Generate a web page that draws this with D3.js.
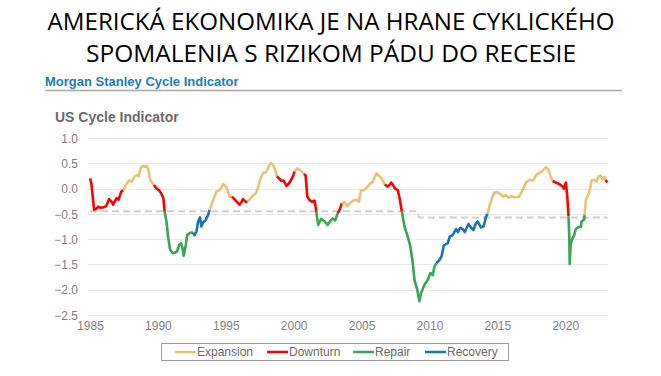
<!DOCTYPE html>
<html>
<head>
<meta charset="utf-8">
<script src="https://cdn.jsdelivr.net/npm/d3@7"></script>
<style>
  body { margin: 0; background: #fff; }
  svg { display: block; }
</style>
</head>
<body>
<div id="chart"></div>
<script>
// Chart data
const titleLines = ["AMERICKÁ EKONOMIKA JE NA HRANE CYKLICKÉHO", "SPOMALENIA S RIZIKOM PÁDU DO RECESIE"];
const phaseNames = ["Expansion", "Downturn", "Repair", "Recovery"];
const phaseColors = ["#e9c375", "#ff0000", "#3ba456", "#1a74b3"];
const yTicks = [1.0, 0.5, 0.0, -0.5, -1.0, -1.5, -2.0, -2.5];
const xTicks = [1985, 1990, 1995, 2000, 2005, 2010, 2015, 2020];

// [year, indicator value]
const cycle = [
  [1985.0, 0.20], [1985.1, 0.10], [1985.3, -0.42], [1985.45, -0.40], [1985.6, -0.36], [1985.8, -0.38],
  [1986.0, -0.37], [1986.2, -0.34], [1986.4, -0.21], [1986.5, -0.24], [1986.6, -0.26], [1986.7, -0.32],
  [1986.85, -0.24], [1986.96, -0.19], [1987.1, -0.22], [1987.3, -0.06], [1987.45, -0.03],
  [1987.7, 0.10], [1987.87, 0.16], [1988.07, 0.14], [1988.3, 0.24], [1988.5, 0.27], [1988.6, 0.25],
  [1988.75, 0.42], [1988.9, 0.45], [1989.05, 0.43], [1989.17, 0.45], [1989.3, 0.37], [1989.4, 0.20],
  [1989.5, 0.14], [1989.7, 0.07],
  [1989.9, 0.0], [1990.07, -0.03], [1990.27, -0.11], [1990.4, -0.19], [1990.5, -0.46],
  [1990.63, -0.65], [1990.75, -0.95], [1990.9, -1.21], [1991.1, -1.28], [1991.4, -1.25], [1991.57, -1.11],
  [1991.7, -1.08], [1991.8, -1.16], [1991.9, -1.33], [1992.06, -1.11], [1992.15, -0.92], [1992.35, -0.88],
  [1992.47, -0.87], [1992.6, -0.88],
  [1992.7, -0.92], [1992.84, -0.85], [1992.96, -0.65], [1993.1, -0.57], [1993.2, -0.75], [1993.33, -0.67],
  [1993.5, -0.63], [1993.7, -0.52], [1993.8, -0.42],
  [1994.07, -0.23], [1994.3, -0.06], [1994.56, -0.03], [1994.8, 0.09], [1995.05, 0.02], [1995.3, -0.17],
  [1995.46, -0.16], [1995.6, -0.20], [1995.8, -0.26], [1996.0, -0.32], [1996.15, -0.27], [1996.27, -0.21],
  [1996.45, -0.26], [1996.6, -0.26],
  [1996.8, -0.20], [1997.0, -0.14], [1997.25, -0.08], [1997.4, 0.05], [1997.5, 0.16], [1997.74, 0.31],
  [1997.94, 0.32], [1998.1, 0.40], [1998.3, 0.51], [1998.5, 0.46], [1998.7, 0.33], [1998.76, 0.24],
  [1998.85, 0.22], [1999.1, 0.15], [1999.26, 0.16], [1999.46, 0.05], [1999.7, 0.12], [1999.95, 0.24],
  [2000.07, 0.34],
  [2000.26, 0.40], [2000.45, 0.37], [2000.6, 0.33], [2000.75, 0.29],
  [2000.88, 0.26], [2001.0, -0.16], [2001.17, -0.23], [2001.34, -0.26], [2001.54, -0.24], [2001.67, -0.46],
  [2001.8, -0.72], [2002.03, -0.60], [2002.28, -0.65], [2002.5, -0.72], [2002.7, -0.64], [2002.87, -0.59],
  [2003.05, -0.63], [2003.24, -0.49],
  [2003.38, -0.42], [2003.55, -0.29],
  [2003.75, -0.27], [2003.94, -0.35], [2004.1, -0.30], [2004.36, -0.24], [2004.6, -0.22], [2004.8, -0.26],
  [2004.97, -0.03], [2005.2, -0.03], [2005.5, 0.06], [2005.7, 0.12], [2005.8, 0.12], [2005.95, 0.22],
  [2006.1, 0.30], [2006.3, 0.25], [2006.5, 0.19], [2006.7, 0.08],
  [2006.93, 0.04], [2007.1, 0.08], [2007.18, 0.12], [2007.3, 0.08], [2007.47, 0.0], [2007.67, -0.03],
  [2007.8, -0.19], [2007.97, -0.46],
  [2008.16, -0.75], [2008.4, -0.95], [2008.6, -1.15], [2008.77, -1.48], [2008.9, -1.81], [2009.1, -2.0],
  [2009.26, -2.23], [2009.38, -2.07], [2009.63, -1.90], [2009.87, -1.81], [2010.07, -1.67], [2010.24, -1.71],
  [2010.37, -1.54], [2010.5, -1.48],
  [2010.74, -1.41], [2010.9, -1.33], [2011.05, -1.13], [2011.2, -1.10], [2011.35, -1.08], [2011.5, -0.95],
  [2011.7, -0.92], [2011.96, -0.80], [2012.1, -0.86], [2012.25, -0.78], [2012.45, -0.80], [2012.6, -0.86],
  [2012.87, -0.70], [2013.06, -0.77], [2013.24, -0.82], [2013.4, -0.70], [2013.55, -0.65], [2013.8, -0.77],
  [2014.0, -0.74], [2014.16, -0.56], [2014.28, -0.50],
  [2014.45, -0.32], [2014.6, -0.19], [2014.78, -0.08], [2015.0, -0.07], [2015.27, -0.12], [2015.44, -0.16],
  [2015.63, -0.13], [2015.8, -0.18], [2016.07, -0.15], [2016.3, -0.17], [2016.6, -0.16], [2016.86, -0.03],
  [2017.1, 0.12], [2017.35, 0.17], [2017.65, 0.16], [2017.84, 0.26], [2018.1, 0.31], [2018.33, 0.35],
  [2018.57, 0.42], [2018.75, 0.38], [2018.94, 0.24], [2019.07, 0.15],
  [2019.3, 0.12], [2019.56, 0.09], [2019.8, 0.04], [2019.9, 0.0], [2020.05, 0.12], [2020.17, -0.23],
  [2020.24, -0.55],
  [2020.3, -0.95], [2020.33, -1.49], [2020.4, -1.11], [2020.5, -1.01], [2020.66, -0.92], [2020.78, -0.80],
  [2020.98, -0.76], [2021.15, -0.76], [2021.2, -0.65], [2021.4, -0.61],
  [2021.42, -0.52], [2021.52, -0.23], [2021.63, -0.16], [2021.76, -0.08], [2021.96, 0.17], [2022.13, 0.17],
  [2022.3, 0.14], [2022.45, 0.24], [2022.6, 0.26], [2022.74, 0.18], [2022.9, 0.23], [2022.97, 0.17],
  [2023.1, 0.12]
];

// [start year, phase]
const phaseChanges = [
  [1985.0, "Downturn"], [1987.45, "Expansion"], [1989.7, "Downturn"], [1990.5, "Repair"],
  [1992.6, "Recovery"], [1993.8, "Expansion"], [1995.46, "Downturn"], [1996.6, "Expansion"],
  [1998.76, "Downturn"], [2000.07, "Expansion"], [2000.75, "Downturn"], [2001.67, "Repair"],
  [2003.24, "Downturn"], [2003.55, "Expansion"], [2006.7, "Downturn"], [2007.97, "Repair"],
  [2010.5, "Recovery"], [2014.28, "Expansion"], [2019.07, "Downturn"], [2020.24, "Repair"],
  [2021.41, "Expansion"], [2022.97, "Downturn"]
];

// grey dashed threshold
const thresholdYears = [1985.0, 2008.95, 2009.25, 2023.1];
const thresholdValues = [-0.45, -0.45, -0.57, -0.57];

const width = 661;
const height = 376;

const svg = d3.select("#chart").append("svg")
    .attr("width", width)
    .attr("height", height);

// Titles
svg.selectAll("text.title")
    .data(titleLines)
    .enter().append("text")
    .attr("class", "title")
    .attr("x", 331)
    .attr("y", (d, i) => 30 + i * 32)
    .attr("text-anchor", "middle")
    .attr("textLength", (d, i) => i === 0 ? 567 : 490)
    .attr("lengthAdjust", "spacingAndGlyphs")
    .style("font-family", "'Open Sans', sans-serif")
    .style("font-size", "24px")
    .style("fill", "#000")
    .text(d => d);

svg.append("text")
    .attr("x", 45)
    .attr("y", 86)
    .style("font-family", "'Liberation Sans', Arial, sans-serif")
    .style("font-weight", "bold")
    .style("font-size", "13px")
    .style("fill", "#1a7bc0")
    .text("Morgan Stanley Cycle Indicator");

svg.append("line")
    .attr("x1", 45).attr("x2", 622)
    .attr("y1", 90.5).attr("y2", 90.5)
    .attr("stroke", "#a6a6a6")
    .attr("stroke-width", 1.5);

svg.append("text")
    .attr("x", 55)
    .attr("y", 122)
    .style("font-family", "'Liberation Sans', Arial, sans-serif")
    .style("font-weight", "bold")
    .style("font-size", "14px")
    .style("fill", "#6b6b6b")
    .text("US Cycle Indicator");

// Scales
const x = d3.scaleLinear().domain([1984.85, 2023.15]).range([88, 608]);
const y = d3.scaleLinear().domain([-2.5, 1.0]).range([315, 138]);

// Gridlines
svg.append("g")
    .selectAll("line")
    .data(yTicks)
    .enter().append("line")
    .attr("x1", x.range()[0])
    .attr("x2", x.range()[1])
    .attr("y1", d => Math.round(y(d)) + 0.5)
    .attr("y2", d => Math.round(y(d)) + 0.5)
    .attr("stroke", "#e8e8e8")
    .attr("stroke-width", 1);

// Y axis labels
const yAxis = svg.append("g")
    .attr("transform", "translate(78,0)")
    .call(d3.axisLeft(y).tickValues(yTicks).tickFormat(d3.format(".1f")).tickSize(0).tickPadding(0));
yAxis.select(".domain").remove();

// X axis labels
const xAxis = svg.append("g")
    .attr("transform", "translate(0,321)")
    .call(d3.axisBottom(x).tickValues(xTicks).tickFormat(d3.format("d")).tickSize(0).tickPadding(0));
xAxis.select(".domain").remove();

svg.selectAll(".tick text")
    .style("font-family", "'Liberation Sans', Arial, sans-serif")
    .style("font-size", "12px")
    .style("fill", "#7f7f7f");
yAxis.selectAll(".tick text").attr("dy", "0.35em");
xAxis.selectAll(".tick text").attr("dy", "0.75em");

// Threshold dashed line
const thresholdLine = d3.line()
    .x(d => x(d[0]))
    .y(d => y(d[1]));

svg.append("path")
    .datum(thresholdYears.map((yr, i) => [yr, thresholdValues[i]]))
    .attr("d", thresholdLine)
    .attr("fill", "none")
    .attr("stroke", "#d0d0d0")
    .attr("stroke-width", 2)
    .attr("stroke-dasharray", "7,4");

// Split the cycle into coloured phase segments
function phaseOf(year) {
    let p = phaseChanges[0][1];
    phaseChanges.forEach(c => { if (year >= c[0] - 1e-9) p = c[1]; });
    return p;
}

// the first point of a new phase also closes the previous segment
const segments = [];
let current = null;
cycle.forEach(pt => {
    const ph = phaseOf(pt[0]);
    if (!current || current.phase !== ph) {
        if (current) current.points.push(pt);
        current = { phase: ph, points: [pt] };
        segments.push(current);
    } else {
        current.points.push(pt);
    }
});

const color = d3.scaleOrdinal().domain(phaseNames).range(phaseColors);

const line = d3.line()
    .x(d => x(d[0]))
    .y(d => y(d[1]));

svg.append("g")
    .selectAll("path")
    .data(segments)
    .enter().append("path")
    .attr("d", d => line(d.points))
    .attr("fill", "none")
    .attr("stroke", d => color(d.phase))
    .attr("stroke-width", 2.6)
    .attr("stroke-linejoin", "round");

// Legend
const legend = svg.append("g");
legend.append("rect")
    .attr("x", 161.5).attr("y", 343.5)
    .attr("width", 347).attr("height", 17)
    .attr("fill", "#fff")
    .attr("stroke", "#9a9a9a")
    .attr("stroke-width", 1);

const legendX = [175, 267, 353, 425];
const item = legend.selectAll("g.item")
    .data(phaseNames)
    .enter().append("g")
    .attr("class", "item")
    .attr("transform", (d, i) => `translate(${legendX[i]},352)`);

item.append("line")
    .attr("x1", 0).attr("x2", 21)
    .attr("stroke", d => color(d))
    .attr("stroke-width", 2.5);

item.append("text")
    .attr("x", 22)
    .attr("dy", "0.35em")
    .style("font-family", "'Liberation Sans', Arial, sans-serif")
    .style("font-size", "12px")
    .style("fill", "#6b6b6b")
    .text(d => d);
</script>
</body>
</html>
